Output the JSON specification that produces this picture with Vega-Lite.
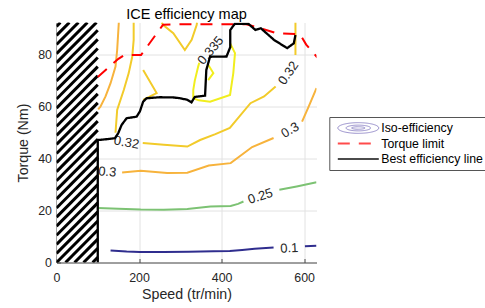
{
  "$schema": "https://vega.github.io/schema/vega-lite/v6.json",
  "width": 260,
  "height": 240,
  "autosize": {"type": "none"},
  "padding": {"left": 56.5, "top": 22.5, "right": 168.5, "bottom": 45.5},
  "background": "white",
  "title": {"text": "ICE efficiency map", "fontSize": 14.5, "fontWeight": "normal", "font": "Liberation Sans", "color": "#000000", "anchor": "middle", "frame": "group", "baseline": "alphabetic", "offset": 4, "dy": 14.5},
  "datasets": {
    "hatchbox": [{"x": 1, "y": 0.3, "x2": 100, "y2": 92.5}],
    "stripes": [
      {"x": 87.5, "y": 0, "x2": 100, "y2": 2},
      {"x": 65.6, "y": 0, "x2": 100, "y2": 5.5},
      {"x": 43.75, "y": 0, "x2": 100, "y2": 9},
      {"x": 21.9, "y": 0, "x2": 100, "y2": 12.5},
      {"x": 0, "y": 0, "x2": 100, "y2": 16},
      {"x": 0, "y": 3.5, "x2": 100, "y2": 19.5},
      {"x": 0, "y": 7, "x2": 100, "y2": 23},
      {"x": 0, "y": 10.5, "x2": 100, "y2": 26.5},
      {"x": 0, "y": 14, "x2": 100, "y2": 30},
      {"x": 0, "y": 17.5, "x2": 100, "y2": 33.5},
      {"x": 0, "y": 21, "x2": 100, "y2": 37},
      {"x": 0, "y": 24.5, "x2": 100, "y2": 40.5},
      {"x": 0, "y": 28, "x2": 100, "y2": 44},
      {"x": 0, "y": 31.5, "x2": 100, "y2": 47.5},
      {"x": 0, "y": 35, "x2": 100, "y2": 51},
      {"x": 0, "y": 38.5, "x2": 100, "y2": 54.5},
      {"x": 0, "y": 42, "x2": 100, "y2": 58},
      {"x": 0, "y": 45.5, "x2": 100, "y2": 61.5},
      {"x": 0, "y": 49, "x2": 100, "y2": 65},
      {"x": 0, "y": 52.5, "x2": 100, "y2": 68.5},
      {"x": 0, "y": 56, "x2": 100, "y2": 72},
      {"x": 0, "y": 59.5, "x2": 100, "y2": 75.5},
      {"x": 0, "y": 63, "x2": 100, "y2": 79},
      {"x": 0, "y": 66.5, "x2": 100, "y2": 82.5},
      {"x": 0, "y": 70, "x2": 100, "y2": 86},
      {"x": 0, "y": 73.5, "x2": 100, "y2": 89.5},
      {"x": 0, "y": 77, "x2": 96.9, "y2": 92.5},
      {"x": 0, "y": 80.5, "x2": 75, "y2": 92.5},
      {"x": 0, "y": 84, "x2": 53.1, "y2": 92.5},
      {"x": 0, "y": 87.5, "x2": 31.25, "y2": 92.5},
      {"x": 0, "y": 91, "x2": 9.4, "y2": 92.5}
    ],
    "contours": [
      {"lvl": "0.1", "seg": "0.1a", "i": 0, "x": 131, "y": 4.6},
      {"lvl": "0.1", "seg": "0.1a", "i": 1, "x": 170, "y": 4.2},
      {"lvl": "0.1", "seg": "0.1a", "i": 2, "x": 202, "y": 4.0},
      {"lvl": "0.1", "seg": "0.1a", "i": 3, "x": 260, "y": 4.0},
      {"lvl": "0.1", "seg": "0.1a", "i": 4, "x": 320, "y": 4.1},
      {"lvl": "0.1", "seg": "0.1a", "i": 5, "x": 380, "y": 4.3},
      {"lvl": "0.1", "seg": "0.1a", "i": 6, "x": 420, "y": 4.4},
      {"lvl": "0.1", "seg": "0.1a", "i": 7, "x": 450, "y": 4.8},
      {"lvl": "0.1", "seg": "0.1a", "i": 8, "x": 480, "y": 5.3},
      {"lvl": "0.1", "seg": "0.1a", "i": 9, "x": 526, "y": 5.8},
      {"lvl": "0.1", "seg": "0.1b", "i": 0, "x": 602, "y": 6.3},
      {"lvl": "0.1", "seg": "0.1b", "i": 1, "x": 630, "y": 6.5},
      {"lvl": "0.25", "seg": "0.25a", "i": 0, "x": 100, "y": 21},
      {"lvl": "0.25", "seg": "0.25a", "i": 1, "x": 150, "y": 20.7},
      {"lvl": "0.25", "seg": "0.25a", "i": 2, "x": 204, "y": 20.4},
      {"lvl": "0.25", "seg": "0.25a", "i": 3, "x": 260, "y": 20.3},
      {"lvl": "0.25", "seg": "0.25a", "i": 4, "x": 317, "y": 20.6},
      {"lvl": "0.25", "seg": "0.25a", "i": 5, "x": 373, "y": 21.6},
      {"lvl": "0.25", "seg": "0.25a", "i": 6, "x": 422, "y": 21.8},
      {"lvl": "0.25", "seg": "0.25a", "i": 7, "x": 440, "y": 22.6},
      {"lvl": "0.25", "seg": "0.25a", "i": 8, "x": 453, "y": 23.5},
      {"lvl": "0.25", "seg": "0.25b", "i": 0, "x": 540, "y": 28},
      {"lvl": "0.25", "seg": "0.25b", "i": 1, "x": 582, "y": 29.3},
      {"lvl": "0.25", "seg": "0.25b", "i": 2, "x": 630, "y": 30.9},
      {"lvl": "0.3", "seg": "0.3a", "i": 0, "x": 101, "y": 59},
      {"lvl": "0.3", "seg": "0.3a", "i": 1, "x": 106.7, "y": 60.1},
      {"lvl": "0.3", "seg": "0.3a", "i": 2, "x": 118.8, "y": 64},
      {"lvl": "0.3", "seg": "0.3a", "i": 3, "x": 131, "y": 69.1},
      {"lvl": "0.3", "seg": "0.3a", "i": 4, "x": 143, "y": 75.5},
      {"lvl": "0.3", "seg": "0.3a", "i": 5, "x": 147, "y": 81.9},
      {"lvl": "0.3", "seg": "0.3a", "i": 6, "x": 151, "y": 92.5},
      {"lvl": "0.3", "seg": "0.3b", "i": 0, "x": 159, "y": 34.7},
      {"lvl": "0.3", "seg": "0.3b", "i": 1, "x": 204, "y": 35.4},
      {"lvl": "0.3", "seg": "0.3b", "i": 2, "x": 268, "y": 34.5},
      {"lvl": "0.3", "seg": "0.3b", "i": 3, "x": 317, "y": 34.6},
      {"lvl": "0.3", "seg": "0.3b", "i": 4, "x": 369, "y": 37.4},
      {"lvl": "0.3", "seg": "0.3b", "i": 5, "x": 422, "y": 38.3},
      {"lvl": "0.3", "seg": "0.3b", "i": 6, "x": 474, "y": 44.5},
      {"lvl": "0.3", "seg": "0.3b", "i": 7, "x": 526, "y": 48},
      {"lvl": "0.3", "seg": "0.3c", "i": 0, "x": 595, "y": 54.3},
      {"lvl": "0.3", "seg": "0.3c", "i": 1, "x": 611, "y": 60.1},
      {"lvl": "0.3", "seg": "0.3c", "i": 2, "x": 630, "y": 67.2},
      {"lvl": "0.32", "seg": "0.32a", "i": 0, "x": 187, "y": 92.5},
      {"lvl": "0.32", "seg": "0.32a", "i": 1, "x": 187, "y": 85.8},
      {"lvl": "0.32", "seg": "0.32a", "i": 2, "x": 183.5, "y": 79.3},
      {"lvl": "0.32", "seg": "0.32a", "i": 3, "x": 175, "y": 73},
      {"lvl": "0.32", "seg": "0.32a", "i": 4, "x": 163, "y": 66.5},
      {"lvl": "0.32", "seg": "0.32a", "i": 5, "x": 147, "y": 58.8},
      {"lvl": "0.32", "seg": "0.32a", "i": 6, "x": 143, "y": 50},
      {"lvl": "0.32", "seg": "0.32b", "i": 0, "x": 209, "y": 46.1},
      {"lvl": "0.32", "seg": "0.32b", "i": 1, "x": 260, "y": 45.4},
      {"lvl": "0.32", "seg": "0.32b", "i": 2, "x": 317, "y": 44.7},
      {"lvl": "0.32", "seg": "0.32b", "i": 3, "x": 348, "y": 47.2},
      {"lvl": "0.32", "seg": "0.32b", "i": 4, "x": 385, "y": 49.5},
      {"lvl": "0.32", "seg": "0.32b", "i": 5, "x": 420, "y": 51.9},
      {"lvl": "0.32", "seg": "0.32b", "i": 6, "x": 470, "y": 61.4},
      {"lvl": "0.32", "seg": "0.32b", "i": 7, "x": 503, "y": 64},
      {"lvl": "0.32", "seg": "0.32b", "i": 8, "x": 531, "y": 67.8},
      {"lvl": "0.32", "seg": "0.32c", "i": 0, "x": 579, "y": 80},
      {"lvl": "0.32", "seg": "0.32c", "i": 1, "x": 579, "y": 92.5},
      {"lvl": "0.32", "seg": "0.32d", "i": 0, "x": 255, "y": 92.5},
      {"lvl": "0.32", "seg": "0.32d", "i": 1, "x": 258.6, "y": 91.5},
      {"lvl": "0.32", "seg": "0.32d", "i": 2, "x": 283, "y": 88.4},
      {"lvl": "0.32", "seg": "0.32d", "i": 3, "x": 311, "y": 81.9},
      {"lvl": "0.32", "seg": "0.32d", "i": 4, "x": 327.5, "y": 85.8},
      {"lvl": "0.32", "seg": "0.32d", "i": 5, "x": 339.6, "y": 91.5},
      {"lvl": "0.32", "seg": "0.32d", "i": 6, "x": 340.5, "y": 92.5},
      {"lvl": "0.32", "seg": "0.32e", "i": 0, "x": 210, "y": 74.2},
      {"lvl": "0.32", "seg": "0.32e", "i": 1, "x": 242.6, "y": 65.3},
      {"lvl": "0.32", "seg": "0.32e", "i": 2, "x": 210, "y": 62.7},
      {"lvl": "0.335", "seg": "0.335a", "i": 0, "x": 346, "y": 77},
      {"lvl": "0.335", "seg": "0.335a", "i": 1, "x": 343.3, "y": 75.5},
      {"lvl": "0.335", "seg": "0.335a", "i": 2, "x": 335, "y": 70},
      {"lvl": "0.335", "seg": "0.335a", "i": 3, "x": 331.4, "y": 66.5},
      {"lvl": "0.335", "seg": "0.335a", "i": 4, "x": 331.4, "y": 63.3},
      {"lvl": "0.335", "seg": "0.335a", "i": 5, "x": 345, "y": 62.5},
      {"lvl": "0.335", "seg": "0.335a", "i": 6, "x": 372, "y": 62},
      {"lvl": "0.335", "seg": "0.335a", "i": 7, "x": 420.5, "y": 64.6},
      {"lvl": "0.335", "seg": "0.335a", "i": 8, "x": 428.4, "y": 73},
      {"lvl": "0.335", "seg": "0.335a", "i": 9, "x": 432.5, "y": 80.7},
      {"lvl": "0.335", "seg": "0.335a", "i": 10, "x": 420.5, "y": 84.5},
      {"lvl": "0.335", "seg": "0.335b", "i": 0, "x": 367.5, "y": 76.2},
      {"lvl": "0.335", "seg": "0.335b", "i": 1, "x": 380, "y": 73},
      {"lvl": "0.335", "seg": "0.335b", "i": 2, "x": 367.5, "y": 70.3}
    ],
    "torque": [
      {"i": 0, "x": 100, "y": 71.5},
      {"i": 1, "x": 150, "y": 78.5},
      {"i": 2, "x": 165, "y": 80},
      {"i": 3, "x": 205, "y": 80},
      {"i": 4, "x": 258, "y": 91.6},
      {"i": 5, "x": 300, "y": 91.8},
      {"i": 6, "x": 460, "y": 91.8},
      {"i": 7, "x": 500, "y": 90},
      {"i": 8, "x": 535, "y": 88.3},
      {"i": 9, "x": 590, "y": 88},
      {"i": 10, "x": 605, "y": 84},
      {"i": 11, "x": 632, "y": 79}
    ],
    "best": [
      {"i": 0, "x": 100, "y": 0},
      {"i": 1, "x": 100, "y": 47.3},
      {"i": 2, "x": 107, "y": 47.3},
      {"i": 3, "x": 120, "y": 47.5},
      {"i": 4, "x": 141.4, "y": 47.9},
      {"i": 5, "x": 149.5, "y": 49.8},
      {"i": 6, "x": 157.7, "y": 53},
      {"i": 7, "x": 169.8, "y": 55.6},
      {"i": 8, "x": 194, "y": 56.2},
      {"i": 9, "x": 202, "y": 58.2},
      {"i": 10, "x": 210, "y": 62},
      {"i": 11, "x": 218, "y": 63.3},
      {"i": 12, "x": 250, "y": 63.7},
      {"i": 13, "x": 284, "y": 63.6},
      {"i": 14, "x": 300, "y": 63.3},
      {"i": 15, "x": 317, "y": 62.7},
      {"i": 16, "x": 327, "y": 61.7},
      {"i": 17, "x": 335, "y": 63.8},
      {"i": 18, "x": 360, "y": 64.3},
      {"i": 19, "x": 363, "y": 74.2},
      {"i": 20, "x": 372, "y": 79.3},
      {"i": 21, "x": 412, "y": 79.4},
      {"i": 22, "x": 421, "y": 83},
      {"i": 23, "x": 421, "y": 89.6},
      {"i": 24, "x": 432, "y": 92},
      {"i": 25, "x": 465, "y": 92},
      {"i": 26, "x": 482, "y": 89.6},
      {"i": 27, "x": 495, "y": 90.3},
      {"i": 28, "x": 527, "y": 85.8},
      {"i": 29, "x": 559, "y": 82.6},
      {"i": 30, "x": 575, "y": 84.5},
      {"i": 31, "x": 579, "y": 87.7}
    ],
    "labels": [
      {"k": "a", "t": "0.1", "x": 564, "y": 5.5},
      {"k": "b", "t": "0.25", "x": 494, "y": 25.5},
      {"k": "c", "t": "0.3", "x": 566, "y": 51},
      {"k": "d", "t": "0.32", "x": 562, "y": 73},
      {"k": "e", "t": "0.335", "x": 373.6, "y": 81.7},
      {"k": "f", "t": "0.32", "x": 169.6, "y": 46.2},
      {"k": "g", "t": "0.3", "x": 123, "y": 34.9}
    ]
  },
  "encoding": {
    "x": {
      "field": "x", "type": "quantitative",
      "scale": {"domain": [0, 630], "nice": false, "zero": false},
      "axis": {"title": "Speed (tr/min)", "values": [0, 200, 400, 600], "grid": true, "gridColor": "#e2e2e2", "domainColor": "#4d4d4d", "tickColor": "#4d4d4d", "tickSize": -4, "labelPadding": 13, "labelFlush": false, "labelFontSize": 12.4, "labelFont": "Liberation Sans", "labelColor": "#262626", "titleFontSize": 14.2, "titleFont": "Liberation Sans", "titleFontWeight": "normal", "titleColor": "#262626", "titlePadding": 4}
    },
    "y": {
      "field": "y", "type": "quantitative",
      "scale": {"domain": [0, 92.5], "nice": false, "zero": false},
      "axis": {"title": "Torque (Nm)", "values": [0, 20, 40, 60, 80], "grid": true, "gridColor": "#e2e2e2", "domainColor": "#4d4d4d", "tickColor": "#4d4d4d", "tickSize": -4, "labelPadding": 9, "labelFontSize": 12.4, "labelFont": "Liberation Sans", "labelColor": "#262626", "titleFontSize": 14.2, "titleFont": "Liberation Sans", "titleFontWeight": "normal", "titleColor": "#262626", "titlePadding": 7}
    }
  },
  "layer": [
    {
      "data": {"name": "hatchbox"},
      "mark": {"type": "rect", "color": "white"},
      "encoding": {"x2": {"field": "x2"}, "y2": {"field": "y2"}}
    },
    {
      "data": {"name": "stripes"},
      "mark": {"type": "rule", "color": "black", "strokeWidth": 3, "strokeCap": "butt", "clip": true},
      "encoding": {"x2": {"field": "x2"}, "y2": {"field": "y2"}}
    },
    {
      "data": {"name": "contours"},
      "mark": {"type": "line", "strokeWidth": 2, "clip": true},
      "encoding": {
        "color": {"field": "lvl", "type": "nominal", "scale": {"domain": ["0.1", "0.25", "0.3", "0.32", "0.335"], "range": ["#2f2d8e", "#7cc273", "#f7b33c", "#f2cb2a", "#f1ee1e"]}, "legend": null},
        "detail": {"field": "seg"},
        "order": {"field": "i"}
      }
    },
    {"data": {"name": "labels"}, "transform": [{"filter": "datum.k == 'a'"}], "mark": {"type": "text", "angle": -3, "fontSize": 13, "font": "Liberation Sans", "color": "#262626", "align": "center", "baseline": "middle"}, "encoding": {"text": {"field": "t"}}},
    {"data": {"name": "labels"}, "transform": [{"filter": "datum.k == 'b'"}], "mark": {"type": "text", "angle": -18, "fontSize": 13, "font": "Liberation Sans", "color": "#262626", "align": "center", "baseline": "middle"}, "encoding": {"text": {"field": "t"}}},
    {"data": {"name": "labels"}, "transform": [{"filter": "datum.k == 'c'"}], "mark": {"type": "text", "angle": -30, "fontSize": 13, "font": "Liberation Sans", "color": "#262626", "align": "center", "baseline": "middle"}, "encoding": {"text": {"field": "t"}}},
    {"data": {"name": "labels"}, "transform": [{"filter": "datum.k == 'd'"}], "mark": {"type": "text", "angle": -55, "fontSize": 13, "font": "Liberation Sans", "color": "#262626", "align": "center", "baseline": "middle"}, "encoding": {"text": {"field": "t"}}},
    {"data": {"name": "labels"}, "transform": [{"filter": "datum.k == 'e'"}], "mark": {"type": "text", "angle": -50, "fontSize": 13, "font": "Liberation Sans", "color": "#262626", "align": "center", "baseline": "middle"}, "encoding": {"text": {"field": "t"}}},
    {"data": {"name": "labels"}, "transform": [{"filter": "datum.k == 'f'"}], "mark": {"type": "text", "angle": 10, "fontSize": 13, "font": "Liberation Sans", "color": "#262626", "align": "center", "baseline": "middle"}, "encoding": {"text": {"field": "t"}}},
    {"data": {"name": "labels"}, "transform": [{"filter": "datum.k == 'g'"}], "mark": {"type": "text", "angle": 5, "fontSize": 13, "font": "Liberation Sans", "color": "#262626", "align": "center", "baseline": "middle"}, "encoding": {"text": {"field": "t"}}},
    {
      "layer": [
        {
          "data": {"values": []},
          "mark": {"type": "point", "filled": false},
          "encoding": {
            "color": {
              "datum": "Iso-efficiency", "type": "nominal",
              "scale": {"domain": ["Iso-efficiency", "Torque limit", "Best efficiency line"], "range": ["#6c5fb5", "#ff0000", "#000000"]},
              "legend": {
                "title": null, "orient": "none", "legendX": 272.8, "legendY": 94.5, "direction": "vertical",
                "padding": 4, "strokeColor": "#555555", "fillColor": "white", "cornerRadius": 0,
                "labelFontSize": 12.3, "labelFont": "Liberation Sans", "labelColor": "#000000", "labelOffset": 1.5,
                "symbolSize": 1681, "symbolOffset": 3.5, "symbolFillColor": "transparent",
                "clipHeight": 14, "rowPadding": 1.5
              }
            },
            "shape": {
              "datum": "Iso-efficiency", "type": "nominal",
              "scale": {"domain": ["Iso-efficiency", "Torque limit", "Best efficiency line"], "range": ["M-1,0A1,0.26,0,1,0,1,0A1,0.26,0,1,0,-1,0ZM-0.6,0A0.6,0.14,0,1,0,0.6,0A0.6,0.14,0,1,0,-0.6,0ZM-0.33,0A0.33,0.06,0,1,0,0.33,0A0.33,0.06,0,1,0,-0.33,0Z", "stroke", "stroke"]}
            },
            "strokeDash": {
              "datum": "Iso-efficiency", "type": "nominal",
              "scale": {"domain": ["Iso-efficiency", "Torque limit", "Best efficiency line"], "range": [[1, 0], [12, 9], [1, 0]]}
            },
            "strokeWidth": {
              "datum": "Iso-efficiency", "type": "nominal",
              "scale": {"type": "ordinal", "domain": ["Iso-efficiency", "Torque limit", "Best efficiency line"], "range": [1, 2, 2]}
            }
          }
        },
        {
          "data": {"name": "torque"},
          "mark": {"type": "line", "strokeWidth": 2, "clip": true},
          "encoding": {
            "order": {"field": "i"},
            "color": {"datum": "Torque limit", "type": "nominal"},
            "strokeDash": {"datum": "Torque limit", "type": "nominal"}
          }
        },
        {
          "data": {"name": "best"},
          "mark": {"type": "line", "strokeWidth": 2.3, "clip": true},
          "encoding": {
            "order": {"field": "i"},
            "color": {"datum": "Best efficiency line", "type": "nominal"},
            "strokeDash": {"datum": "Best efficiency line", "type": "nominal"}
          }
        }
      ]
    }
  ],
  "resolve": {"scale": {"color": "independent", "strokeDash": "independent", "shape": "independent", "strokeWidth": "independent"}},
  "config": {"view": {"stroke": null}, "font": "Liberation Sans"}
}
